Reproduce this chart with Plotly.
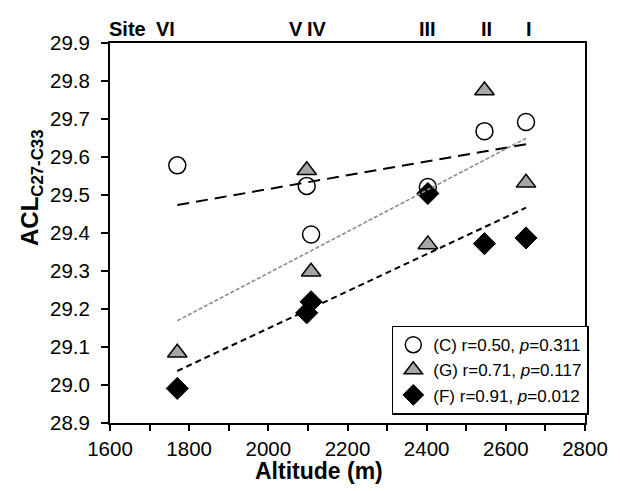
import numpy as np
import plotly.graph_objects as go

# Data
alt = [1770, 2097, 2108, 2403, 2546, 2651]
acl_C = [29.578, 29.524, 29.396, 29.521, 29.668, 29.692]
acl_G = [29.085, 29.565, 29.298, 29.370, 29.775, 29.532]
acl_F = [28.991, 29.190, 29.219, 29.504, 29.372, 29.387]
labels = {"C": "(C) r=0.50, <i>p</i>=0.311",
          "G": "(G) r=0.71, <i>p</i>=0.117",
          "F": "(F) r=0.91, <i>p</i>=0.012"}
site_names = ["Site", "VI", "V", "IV", "III", "II", "I"]
site_pos = [1643, 1741, 2069, 2123, 2401, 2550, 2659]

FONT = "Liberation Sans, Arial, sans-serif"
fig = go.Figure()

fig.add_trace(go.Scatter(x=alt, y=acl_G, mode="markers", name=labels["G"], legendrank=2,
                         legendgroup="G",
                         marker=dict(symbol="triangle-up", size=17, color="#a6a6a6",
                                     line=dict(color="black", width=1.5))))
fig.add_trace(go.Scatter(x=alt, y=acl_C, mode="markers", name=labels["C"], legendrank=1,
                         legendgroup="C",
                         marker=dict(symbol="circle", size=17, color="white",
                                     line=dict(color="black", width=1.5))))
fig.add_trace(go.Scatter(x=alt, y=acl_F, mode="markers", name=labels["F"], legendrank=3,
                         legendgroup="F",
                         marker=dict(symbol="diamond", size=17, color="black",
                                     line=dict(color="black", width=1))))

xs = np.array([min(alt), max(alt)], dtype=float)
for ys, color, dash, width in [(acl_C, "black", "12px,7px", 2),
                               (acl_G, "#8c8c8c", "4px,2px", 1.6),
                               (acl_F, "black", "6px,4px", 2)]:
    k, b = np.polyfit(alt, ys, 1)
    fig.add_trace(go.Scatter(x=xs, y=k * xs + b, mode="lines", showlegend=False,
                             line=dict(color=color, dash=dash, width=width),
                             hoverinfo="skip"))

for name, pos in zip(site_names, site_pos):
    fig.add_annotation(x=pos, y=1.038, xref="x", yref="paper", text=f"<b>{name}</b>",
                       showarrow=False, font=dict(size=20, color="black", family=FONT),
                       xanchor="center", yanchor="middle")

fig.add_annotation(x=-0.165, y=0.62, xref="paper", yref="paper",
                   text="<b>ACL<sub>C27-C33</sub></b>", textangle=-90, showarrow=False,
                   font=dict(size=24, color="black", family=FONT),
                   xanchor="center", yanchor="middle")
fig.add_annotation(x=0.44, y=-0.126, xref="paper", yref="paper",
                   text="<b>Altitude (m)</b>", showarrow=False,
                   font=dict(size=23, color="black", family=FONT),
                   xanchor="center", yanchor="middle")

fig.update_layout(
    width=620, height=491,
    margin=dict(l=110, r=26, t=42.5, b=68),
    paper_bgcolor="white", plot_bgcolor="white",
    font=dict(family=FONT, color="black", size=20),
    showlegend=True,
    legend=dict(x=1.008, y=0.022, xanchor="right", yanchor="bottom",
                bordercolor="black", borderwidth=1.5, bgcolor="white",
                font=dict(size=17, family=FONT), tracegroupgap=7,
                traceorder="normal"),
    xaxis=dict(range=[1600, 2800], dtick=200, tick0=1600, showgrid=False, zeroline=False,
               showline=True, linecolor="black", linewidth=2, mirror=True,
               ticks="outside", ticklen=6, tickwidth=1.5, tickcolor="black",
               minor=dict(dtick=100, ticks="outside", ticklen=6, tickwidth=1.5,
                          tickcolor="black", showgrid=False),
               tickfont=dict(size=20.5)),
    yaxis=dict(range=[28.9, 29.9], dtick=0.1, tick0=28.9, tickformat=".1f", showgrid=False,
               zeroline=False, showline=True, linecolor="black", linewidth=2, mirror=True,
               ticks="outside", ticklen=7, tickwidth=1.5, tickcolor="black",
               ticklabelstandoff=7, tickfont=dict(size=20.5)),
)

fig.write_html("out.html")
